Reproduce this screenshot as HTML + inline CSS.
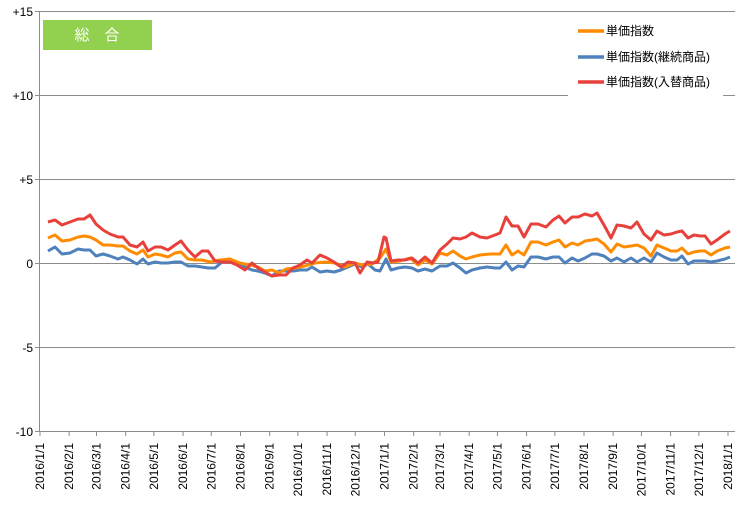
<!DOCTYPE html>
<html><head><meta charset="utf-8"><style>
body{margin:0;background:#fff;}
svg{display:block;font-family:"Liberation Sans","Noto Sans CJK JP",sans-serif;}
</style></head><body>
<svg id="c" width="735" height="510" xmlns="http://www.w3.org/2000/svg">
<g stroke="#8c8c8c" stroke-width="1">
<line x1="35" y1="11.5" x2="735" y2="11.5"/>
<line x1="35" y1="95.5" x2="735" y2="95.5"/>
<line x1="35" y1="179.5" x2="735" y2="179.5"/>
<line x1="35" y1="263.5" x2="735" y2="263.5"/>
<line x1="35" y1="347.5" x2="735" y2="347.5"/>
<line x1="35" y1="431.5" x2="735" y2="431.5"/>
<line x1="39.5" y1="11" x2="39.5" y2="432"/>
</g>
<g font-size="12" fill="#000" text-anchor="end">
<text x="33" y="16">+15</text><text x="33" y="100">+10</text><text x="33" y="184">+5</text>
<text x="33" y="268">0</text><text x="33" y="352">-5</text><text x="33" y="436">-10</text>
</g>
<g id="xt" stroke="#8c8c8c"></g>
<g id="xl" font-size="12" fill="#000"></g>
<rect x="43" y="20" width="109" height="30" fill="#92d050"/>
<text x="97" y="40" font-size="15" fill="#fff" text-anchor="middle">総　合</text>
<rect x="568" y="14" width="155" height="84" fill="#fff"/>
<g stroke-width="3.5">
<line x1="578" y1="31" x2="604" y2="31" stroke="#ff8c00"/>
<line x1="578" y1="57" x2="604" y2="57" stroke="#4f81bd"/>
<line x1="578" y1="82" x2="604" y2="82" stroke="#e8413c"/>
</g>
<g font-size="12" fill="#000">
<text x="606" y="35">単価指数</text>
<text x="606" y="61">単価指数(継続商品)</text>
<text x="606" y="86">単価指数(入替商品)</text>
</g>
<g fill="none" stroke-width="3" stroke-linejoin="round">
<polyline stroke="#4f81bd" points="48,251 55,247 62,254 70,253 78,249 84,250 90,250 96,256 103,254 110,256 118,259 123,257 130,260 137,264 143,259 148,264 155,262 161,263 168,263 175,262 181,262 188,266 195,266 202,267 208,268 215,268 222,262 230,262 237,263 245,267 252,270 258,271 265,273 272,276 279,271 286,271 293,271 300,270 307,270 312,267 320,272 327,271 334,272 341,270 348,267 355,264 362,267 368,264 375,270 380,271 386,259 391,270 398,268 405,267 412,268 418,271 425,269 432,271 440,266 447,266 453,263 460,268 466,273 472,270 480,268 487,267 495,268 500,268 506,262 512,270 518,266 524,267 531,257 538,257 546,259 553,257 559,257 565,263 572,258 578,261 585,258 592,254 597,254 604,256 611,261 617,258 624,262 631,258 637,262 644,258 651,262 657,253 664,257 671,260 677,260 682,256 688,264 694,261 700,261 705,261 711,262 717,261 725,259 730,257"/>
<polyline stroke="#ff8c00" points="48,238 55,235 62,241 70,240 78,237 84,236 90,237 96,240 103,245 110,245 118,246 123,246 130,251 137,254 143,250 148,257 155,254 161,255 168,257 175,253 181,252 188,259 195,260 202,260 210,262 220,260 230,259 240,263 250,265 258,267 265,271 272,270 279,273 286,269 295,268 305,266 315,263 325,262 335,263 345,267 355,263 362,265 372,264 380,258 386,249 391,262 400,261 410,258 418,265 425,260 432,264 440,253 447,255 453,251 460,256 466,259 472,257 480,255 490,254 500,254 506,245 512,255 518,251 524,255 531,242 538,242 546,245 553,242 559,240 565,247 572,243 578,245 585,241 592,240 597,239 604,244 611,252 617,244 624,247 631,246 637,245 644,248 651,256 657,245 664,248 671,251 677,251 682,248 688,254 694,252 700,251 705,251 711,255 717,251 725,248 730,247"/>
<polyline stroke="#e8413c" points="48,222 55,220 62,225 70,222 78,219 84,219 90,215 96,224 103,230 110,234 118,237 123,237 130,245 137,247 143,242 148,251 155,247 161,247 168,250 175,245 181,241 188,250 195,257 202,251 208,251 215,261 222,262 230,262 237,265 245,270 252,263 258,268 265,272 272,276 279,275 286,275 293,268 300,265 307,260 312,263 320,255 327,258 334,262 341,267 348,262 355,263 360,273 367,262 373,263 378,262 384,237 386,238 391,261 398,260 405,260 412,258 418,263 425,257 432,263 440,250 447,244 453,238 460,239 466,237 472,233 480,237 487,238 495,235 500,233 506,217 512,226 518,226 524,237 531,224 538,224 546,227 553,220 559,216 565,223 572,217 578,217 585,214 592,216 597,213 604,225 611,238 617,225 624,226 631,228 637,222 644,234 651,240 657,231 664,235 671,234 677,232 682,231 688,238 694,235 700,236 705,236 711,244 717,240 725,234 730,231"/>
</g>
</svg>
<script>
var md=[31,29,31,30,31,30,31,31,30,31,30,31,31,28,31,30,31,30,31,31,30,31,30,31];
var d=0,ns="http://www.w3.org/2000/svg",xt=document.getElementById("xt"),xl=document.getElementById("xl");
for(var i=0;i<=24;i++){
 var x=40+d*(688/731);
 var l=document.createElementNS(ns,"line");
 l.setAttribute("x1",x);l.setAttribute("x2",x);l.setAttribute("y1",431);l.setAttribute("y2",436);xt.appendChild(l);
 var t=document.createElementNS(ns,"text");
 var y=2016+Math.floor(i/12),m=(i%12)+1;
 t.textContent=y+"/"+m+"/1";
 t.setAttribute("text-anchor","end");
 t.setAttribute("transform","translate("+(x+4)+",443) rotate(-90)");
 xl.appendChild(t);
 if(i<24)d+=md[i];
}
</script>
</body></html>
